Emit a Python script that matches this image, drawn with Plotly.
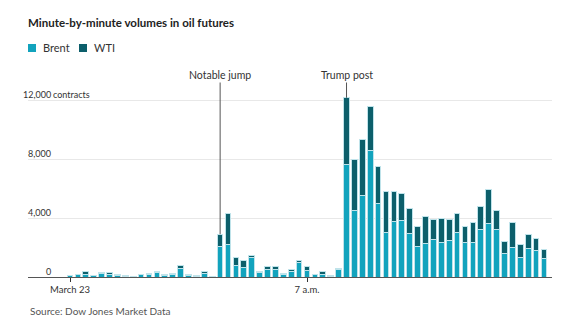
import plotly.graph_objects as go

# One bar per minute, 6:30 a.m. to 7:30 a.m. on March 23
minutes = [f"{6 + (30 + i) // 60}:{(30 + i) % 60:02d}" for i in range(61)]

# Contracts traded per minute
brent = [80, 150, 180, 80, 260, 150, 130, 60, 40, 170,
         200, 280, 120, 200, 560, 120, 60, 230, 40, 2100,
         2200, 800, 650, 1350, 300, 480, 480, 200, 380, 1000,
         430, 170, 200, 60, 520, 7600, 4500, 5550, 8600, 5000,
         3000, 3750, 3800, 2950, 2100, 2250, 2550, 2350, 2500, 3030,
         2350, 2350, 3200, 3650, 3230, 1600, 2000, 1330, 1950, 1830,
         1270]
wti = [30, 50, 160, 30, 30, 140, 30, 30, 20, 30,
       70, 80, 40, 50, 210, 40, 30, 110, 20, 800,
       2100, 500, 450, 120, 50, 200, 200, 30, 100, 120,
       270, 30, 140, 30, 90, 4550, 3500, 3800, 2950, 2480,
       2780, 2030, 1870, 1680, 1300, 1850, 1350, 1600, 1400, 1300,
       1100, 1330, 1570, 2300, 1250, 800, 1700, 900, 950, 770,
       610]

x_ticks = [minutes[0], minutes[30]]
x_tick_text = ["March 23", "7 a.m."]
y_ticks = [0, 4000, 8000, 12000]
y_tick_text = ["0", "4,000", "8,000", "12,000"]

callouts = [(19, "Notable jump"), (35, "Trump post")]

BRENT = "#12a3bd"
WTI = "#0c5f6b"
EDGE = "#bfe3ea"
TEXT = "#333333"
FONT = "Lato, 'Open Sans', sans-serif"

fig = go.Figure()
fig.add_bar(x=minutes, y=brent, name="Brent",
            marker=dict(color=BRENT, line=dict(color=EDGE, width=1)))
fig.add_bar(x=minutes, y=wti, name="WTI",
            marker=dict(color=WTI, line=dict(color=EDGE, width=1)))

W, H = 578, 325
ML, MR, MT, MB = 28, 26, 80, 48
PW, PH = W - ML - MR, H - MT - MB
Y_MAX = 13356

def px_x(px):
    return (px - ML) / PW

def px_y(py):
    return (H - MB - py) / PH

annotations = []
shapes = []

# y-axis labels sit just above their gridlines
for v, t in zip(y_ticks, y_tick_text):
    annotations.append(dict(xref="paper", yref="y", x=px_x(53), y=v, text=t,
                            xanchor="right", yanchor="middle", yshift=6,
                            showarrow=False, font=dict(size=9, color=TEXT, family=FONT)))
annotations.append(dict(xref="paper", yref="y", x=px_x(51), y=y_ticks[-1], text="contracts",
                        xanchor="left", yanchor="middle", yshift=6,
                        showarrow=False, font=dict(size=9, color=TEXT, family=FONT)))

# Event callouts pointing at the top of each stacked bar
for i, label in callouts:
    top = brent[i] + wti[i]
    bar_top_px = (H - MB) - top / Y_MAX * PH
    annotations.append(dict(x=minutes[i], y=top, xref="x", yref="y", text=label,
                            showarrow=True, arrowhead=0, arrowwidth=1, arrowcolor="#555555",
                            ax=0, ay=-(bar_top_px - 75), standoff=0,
                            font=dict(size=10.5, color=TEXT, family=FONT)))

# Legend
legend_items = [(28, BRENT, "Brent"), (79, WTI, "WTI")]
for x0, color, label in legend_items:
    shapes.append(dict(type="rect", xref="paper", yref="paper",
                       x0=px_x(x0), x1=px_x(x0 + 8), y0=px_y(52), y1=px_y(44),
                       fillcolor=color, line=dict(width=0)))
    annotations.append(dict(xref="paper", yref="paper", x=px_x(x0 + 13), y=px_y(48),
                            text=label, xanchor="left", yanchor="middle", showarrow=False,
                            font=dict(size=11, color=TEXT, family=FONT)))

# Source line
annotations.append(dict(xref="paper", yref="paper", x=px_x(28), y=px_y(311),
                        text="Source: Dow Jones Market Data", xanchor="left", yanchor="middle",
                        showarrow=False, font=dict(size=10, color="#555555", family=FONT)))

fig.update_layout(
    width=W, height=H,
    margin=dict(l=ML, r=MR, t=MT, b=MB, pad=0),
    paper_bgcolor="white", plot_bgcolor="white",
    barmode="stack", bargap=0.28,
    showlegend=False,
    title=dict(text="<b>Minute-by-minute volumes in oil futures</b>",
               x=ML / W, xanchor="left", xref="container",
               y=1 - 23 / H, yanchor="middle", yref="container",
               font=dict(size=11.5, color="#222222", family=FONT)),
    xaxis=dict(type="category", range=[-5.32, 61.01],
               tickmode="array", tickvals=x_ticks, ticktext=x_tick_text,
               ticks="outside", ticklen=4, tickcolor=TEXT, tickwidth=1,
               showline=True, linecolor="#555555", linewidth=1,
               showgrid=False, tickfont=dict(size=9.5, color=TEXT, family=FONT)),
    yaxis=dict(range=[0, Y_MAX], tickmode="array", tickvals=y_ticks[1:],
               showticklabels=False, showgrid=True, gridcolor="#e8e8e8", gridwidth=1,
               zeroline=False, showline=False),
    annotations=annotations,
    shapes=shapes,
    font=dict(family=FONT),
)

fig.write_html("out.html")
